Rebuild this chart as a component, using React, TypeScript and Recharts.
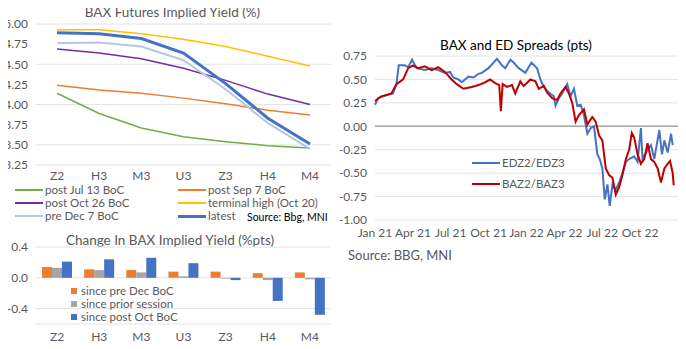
import { LineChart, Line, BarChart, Bar, XAxis, YAxis, CartesianGrid, ReferenceLine } from 'recharts'

// contracts
const categories = ['Z2', 'H3', 'M3', 'U3', 'Z3', 'H4', 'M4']

// BAX implied yield curves (%)
const postJul13 = [4.14, 3.89, 3.71, 3.6, 3.54, 3.49, 3.46]
const postSep7 = [4.24, 4.18, 4.14, 4.08, 4.01, 3.93, 3.87]
const postOct26 = [4.69, 4.64, 4.57, 4.45, 4.3, 4.13, 4.0]
const terminalHigh = [4.93, 4.93, 4.88, 4.81, 4.72, 4.6, 4.48]
const preDec7 = [4.76, 4.77, 4.72, 4.55, 4.19, 3.77, 3.45]
const latest = [4.89, 4.88, 4.82, 4.64, 4.26, 3.83, 3.51]

// change in implied yield (%pts)
const sincePreDec = [0.14, 0.11, 0.1, 0.08, 0.08, 0.06, 0.07]
const sincePrior = [0.13, 0.1, 0.07, 0.02, -0.01, -0.03, -0.02]
const sincePostOct = [0.21, 0.24, 0.26, 0.19, -0.03, -0.3, -0.48]

// spreads: months since Jan 2021
const edMonths = [0, 0.24, 0.9, 1.43, 1.7, 1.88, 2.36, 2.63, 2.94, 3.29, 3.95, 4.48, 5.01, 5.54, 5.94, 6.21, 6.6, 6.87, 7.4, 7.8, 8.2, 8.46, 8.99, 9.39, 9.66, 10.05, 10.32, 10.72, 10.98, 11.38, 11.91, 12.39, 12.84, 13.1, 13.37, 13.77, 14.16, 14.3, 14.56, 14.83, 15.23, 15.49, 15.76, 16.02, 16.29, 16.55, 16.82, 17.08, 17.35, 17.61, 17.8, 18.01, 18.2, 18.41, 18.59, 18.81, 19.07, 19.34, 19.6, 19.87, 20.13, 20.53, 20.8, 21.06, 21.19, 21.59, 21.86, 22.12, 22.52, 22.73, 22.92, 23.18, 23.45, 23.58]
const edValues = [0.23, 0.3, 0.33, 0.35, 0.45, 0.65, 0.65, 0.63, 0.71, 0.62, 0.6, 0.62, 0.6, 0.57, 0.58, 0.52, 0.5, 0.47, 0.53, 0.52, 0.56, 0.57, 0.62, 0.68, 0.72, 0.65, 0.62, 0.71, 0.68, 0.62, 0.57, 0.68, 0.62, 0.5, 0.42, 0.36, 0.32, 0.22, 0.3, 0.35, 0.45, 0.32, 0.4, 0.22, 0.23, 0.12, -0.08, -0.02, 0.0, -0.3, -0.35, -0.45, -0.78, -0.62, -0.85, -0.62, -0.68, -0.6, -0.5, -0.38, -0.35, -0.32, -0.38, -0.02, -0.35, -0.25, -0.2, -0.35, -0.04, -0.3, -0.15, -0.28, -0.08, -0.2]
const baMonths = [0, 0.5, 1.3, 1.7, 2.23, 2.63, 3.02, 3.42, 3.95, 4.48, 5.01, 5.54, 6.07, 6.47, 7.0, 7.67, 8.2, 8.73, 9.12, 9.52, 9.84, 9.97, 10.11, 10.45, 10.85, 11.11, 11.51, 11.78, 12.31, 12.71, 12.97, 13.37, 13.63, 14.03, 14.43, 14.69, 15.09, 15.36, 15.62, 15.89, 16.15, 16.55, 16.82, 17.21, 17.48, 17.75, 18.01, 18.28, 18.54, 18.81, 19.07, 19.34, 19.6, 19.87, 20.13, 20.34, 20.53, 20.8, 21.06, 21.33, 21.59, 21.86, 22.12, 22.39, 22.65, 22.92, 23.18, 23.37, 23.58, 23.66]
const baValues = [0.27, 0.32, 0.35, 0.45, 0.5, 0.62, 0.65, 0.62, 0.64, 0.6, 0.63, 0.58, 0.5, 0.45, 0.4, 0.42, 0.44, 0.47, 0.5, 0.46, 0.44, 0.16, 0.45, 0.42, 0.44, 0.35, 0.48, 0.43, 0.5, 0.48, 0.4, 0.43, 0.36, 0.3, 0.28, 0.35, 0.42, 0.35, 0.25, 0.05, 0.12, 0.18, 0.02, 0.1, 0.05, -0.1, -0.15, -0.45, -0.52, -0.55, -0.73, -0.65, -0.52, -0.35, -0.25, -0.07, -0.12, -0.3, -0.4, -0.35, -0.18, -0.35, -0.38, -0.45, -0.6, -0.45, -0.4, -0.37, -0.5, -0.63]
const spreadTicks = [0, 3, 6, 9, 12, 15, 18, 21]
const spreadTickLabels = ['Jan 21', 'Apr 21', 'Jul 21', 'Oct 21', 'Jan 22', 'Apr 22', 'Jul 22', 'Oct 22']

const curveData = categories.map((c, i) => ({
  name: c,
  jul: postJul13[i],
  sep: postSep7[i],
  oct: postOct26[i],
  high: terminalHigh[i],
  dec: preDec7[i],
  latest: latest[i],
}))
const changeData = categories.map((c, i) => ({
  name: c,
  preDec: sincePreDec[i],
  prior: sincePrior[i],
  postOct: sincePostOct[i],
}))
const edData = edMonths.map((m, i) => ({ m, v: edValues[i] }))
const baData = baMonths.map((m, i) => ({ m, v: baValues[i] }))

const FONT = 'Lato, "Open Sans", sans-serif'
const GREY = '#595959'
const tick = { fill: GREY, fontSize: 12, fontFamily: FONT }

const abs = (left: number, top: number, extra: object = {}) =>
  ({ position: 'absolute', left, top, ...extra } as React.CSSProperties)

function LegendLine({ x, y, color, label, width = 2 }: { x: number; y: number; color: string; label: string; width?: number }) {
  return (
    <div style={abs(x, y - 6, { display: 'flex', alignItems: 'center', height: 12, lineHeight: '12px', whiteSpace: 'nowrap' })}>
      <div style={{ width: 28, height: width, background: color, marginRight: 2 }} />
      <span style={{ fontSize: 11.5, color: GREY }}>{label}</span>
    </div>
  )
}

function LegendBox({ x, y, color, label }: { x: number; y: number; color: string; label: string }) {
  return (
    <div style={abs(x, y - 6, { display: 'flex', alignItems: 'center', height: 12, lineHeight: '12px', whiteSpace: 'nowrap' })}>
      <div style={{ width: 6, height: 6, background: color, marginRight: 4 }} />
      <span style={{ fontSize: 11.5, color: GREY }}>{label}</span>
    </div>
  )
}

export default function App() {
  return (
    <div style={{ position: 'relative', width: 686, height: 349, background: '#fff', fontFamily: FONT, margin: -8, overflow: 'hidden' }}>
      {/* top left: implied yield curves */}
      <div style={abs(0, 4, { width: 345, textAlign: 'center', fontSize: 13.5, lineHeight: '16px', color: GREY })}>BAX Futures Implied Yield (%)</div>
      <div style={abs(0, 0)}>
        <LineChart width={340} height={190} data={curveData} margin={{ top: 24, right: 9, left: 0, bottom: 5 }}>
          <CartesianGrid vertical={false} stroke="#e4e4e4" />
          <XAxis dataKey="name" padding={{ left: 21, right: 21 }} axisLine={false} tickLine={false} tick={tick} tickMargin={0} height={20} interval={0} />
          <YAxis domain={[3.25, 5]} ticks={[3.25, 3.5, 3.75, 4, 4.25, 4.5, 4.75, 5]} tickFormatter={(v: number) => v.toFixed(2)} axisLine={false} tickLine={false} tick={tick} width={36} />
          <Line dataKey="jul" stroke="#70AD47" strokeWidth={1.5} dot={false} isAnimationActive={false} />
          <Line dataKey="sep" stroke="#ED7D31" strokeWidth={1.5} dot={false} isAnimationActive={false} />
          <Line dataKey="oct" stroke="#7030A0" strokeWidth={1.5} dot={false} isAnimationActive={false} />
          <Line dataKey="high" stroke="#FFC000" strokeWidth={1.5} dot={false} isAnimationActive={false} />
          <Line dataKey="dec" stroke="#B4C7E7" strokeWidth={2} dot={false} isAnimationActive={false} />
          <Line dataKey="latest" stroke="#4472C4" strokeWidth={3} dot={false} isAnimationActive={false} />
        </LineChart>
      </div>
      <LegendLine x={15} y={190} color="#70AD47" label="post Jul 13 BoC" />
      <LegendLine x={15} y={203} color="#7030A0" label="post Oct 26 BoC" />
      <LegendLine x={15} y={216} color="#B4C7E7" label="pre Dec 7 BoC" />
      <LegendLine x={178} y={190} color="#ED7D31" label="post Sep 7 BoC" />
      <LegendLine x={178} y={203} color="#FFC000" label="terminal high (Oct 20)" />
      <LegendLine x={178} y={216} color="#4472C4" label="latest" width={3} />
      <div style={abs(247, 211, { fontSize: 10.5, lineHeight: '12px', color: '#000' })}>Source: Bbg, MNI</div>

      {/* bottom left: change bars */}
      <div style={abs(0, 232, { width: 340, textAlign: 'center', fontSize: 13.5, lineHeight: '16px', color: GREY })}>Change In BAX Implied Yield (%pts)</div>
      <div style={abs(0, 230)}>
        <BarChart width={340} height={119} data={changeData} margin={{ top: 17, right: 9, left: 0, bottom: 3 }} barGap={0} barSize={10}>
          <CartesianGrid vertical={false} stroke="#e4e4e4" />
          <XAxis dataKey="name" axisLine={false} tickLine={false} tick={tick} height={22} interval={0} />
          <YAxis domain={[-0.6, 0.4]} ticks={[-0.6, -0.4, -0.2, 0, 0.2, 0.4]} tickFormatter={(v: number) => v.toFixed(1)} axisLine={false} tickLine={false} tick={tick} width={36} />
          <Bar dataKey="preDec" fill="#ED7D31" isAnimationActive={false} />
          <Bar dataKey="prior" fill="#A5A5A5" isAnimationActive={false} />
          <Bar dataKey="postOct" fill="#4472C4" isAnimationActive={false} />
        </BarChart>
      </div>
      <LegendBox x={71} y={291} color="#ED7D31" label="since pre Dec BoC" />
      <LegendBox x={71} y={304} color="#A5A5A5" label="since prior session" />
      <LegendBox x={71} y={317} color="#4472C4" label="since post Oct BoC" />

      {/* right: spreads */}
      <div style={abs(343, 37, { width: 346, textAlign: 'center', fontSize: 13.5, lineHeight: '16px', color: '#000' })}>BAX and ED Spreads (pts)</div>
      <div style={abs(340, 0)}>
        <LineChart width={346} height={260} margin={{ top: 56, right: 8, left: 0, bottom: 20 }}>
          <CartesianGrid vertical={false} stroke="#e4e4e4" />
          <XAxis dataKey="m" type="number" domain={[0, 24]} ticks={spreadTicks} tickFormatter={(v: number) => spreadTickLabels[spreadTicks.indexOf(v)]} axisLine={false} tickLine={false} tick={tick} height={20} interval={0} />
          <YAxis domain={[-1, 0.75]} ticks={[-1, -0.75, -0.5, -0.25, 0, 0.25, 0.5, 0.75]} tickFormatter={(v: number) => v.toFixed(2)} axisLine={false} tickLine={false} tick={tick} width={35} />
          <ReferenceLine y={0} stroke="#a6a6a6" strokeWidth={1.5} />
          <Line data={edData} dataKey="v" stroke="#4472C4" strokeWidth={2} dot={false} isAnimationActive={false} />
          <Line data={baData} dataKey="v" stroke="#C00000" strokeWidth={2} dot={false} isAnimationActive={false} />
        </LineChart>
      </div>
      <LegendLine x={472} y={163} color="#4472C4" label="EDZ2/EDZ3" width={2} />
      <LegendLine x={472} y={184} color="#C00000" label="BAZ2/BAZ3" width={2} />
      <div style={abs(348, 247, { fontSize: 13, lineHeight: '16px', color: GREY })}>Source: BBG, MNI</div>
    </div>
  )
}
